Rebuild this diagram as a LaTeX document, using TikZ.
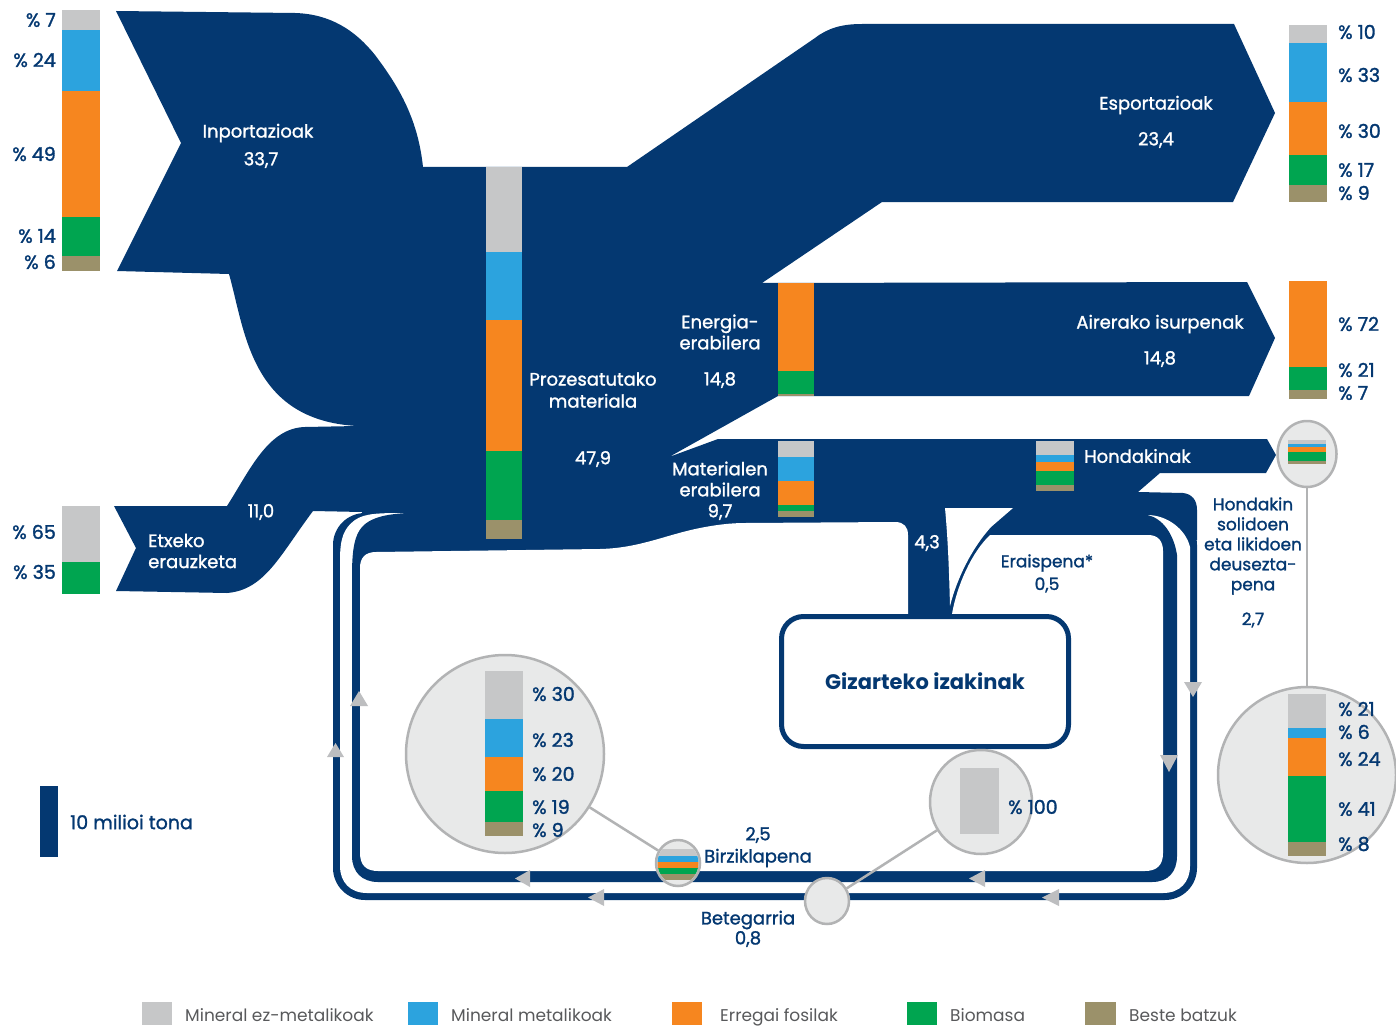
\documentclass[tikz,border=0pt]{standalone}
\usepackage{fontspec}
\setmainfont{Poppins}
\newfontfamily\labfont{Poppins}[FakeBold=1.3]
\newfontfamily\pctfont{Poppins}[FakeBold=1.6]
\usetikzlibrary{shapes.geometric}
\definecolor{navy}{RGB}{4,56,113}
\definecolor{cgrey}{RGB}{198,199,200}
\definecolor{cblue}{RGB}{44,163,222}
\definecolor{corange}{RGB}{246,134,31}
\definecolor{cgreen}{RGB}{0,165,80}
\definecolor{ctan}{RGB}{155,145,106}
\definecolor{circfill}{RGB}{232,233,233}
\definecolor{circline}{RGB}{178,179,180}
\definecolor{arrgrey}{RGB}{189,190,192}
\definecolor{legtext}{RGB}{88,89,91}
\tikzset{
  wl/.style={text=white, font=\labfont\fontsize{18}{21}\selectfont, inner sep=0pt},
  nl/.style={text=navy, font=\labfont\fontsize{17}{21}\selectfont, inner sep=0pt},
  pct/.style={text=navy, font=\pctfont\fontsize{19}{21}\selectfont, inner sep=0pt},
  leg/.style={text=legtext, font=\fontsize{17}{21}\selectfont, inner sep=0pt, anchor=base west},
  circ/.style={ellipse, draw=circline, fill=circfill, line width=2.5pt, inner sep=0pt},
  conn/.style={draw=circline, line width=2.5pt},
  arr/.style={fill=arrgrey}
}
\begin{document}
\begin{tikzpicture}[x=1pt,y=-1pt]
\useasboundingbox (0,0) rectangle (1396,1027);
% ---------- main navy body ----------
\fill[navy] (116,11) -- (295,13) .. controls (330,14) and (355,30) .. (375,55)
  .. controls (400,88) and (418,120) .. (423,167) -- (627,167) -- (815,38)
  .. controls (828,28) and (842,24) .. (862,24) -- (1234,24) -- (1275,113) -- (1233,202)
  -- (882,202) -- (762,283) -- (1247,282) -- (1275,338) -- (1249,396) -- (778,396)
  -- (669,457) -- (718,439) -- (1267,439) -- (1276,455) -- (1266,473) -- (1160,473)
  -- (1138,492) -- (1183,493) .. controls (1192,494) and (1197,500) .. (1197,510)
  -- (1197,540) -- (362,540) -- (362,512) -- (313,511)
  .. controls (280,555) and (265,590) .. (227,593) -- (116,591) -- (136,548) -- (114,506)
  -- (227,506) .. controls (250,470) and (268,428) .. (305,427) -- (357,426)
  .. controls (250,420) and (245,330) .. (229,274) -- (117,271) -- (181,143) -- cycle;
% ---------- loops ----------
\fill[navy, rounded corners=32pt] (333,513) rectangle (1197,900);
\fill[white] (408,513) .. controls (380,513) and (365,513) .. (355,520)
  .. controls (344,528) and (340,538) .. (340,560) -- (340,866)
  .. controls (340,882) and (350,893) .. (367,893) -- (1163,893)
  .. controls (1180,893) and (1190,882) .. (1190,866) -- (1190,547)
  .. controls (1186,530) and (1168,515) .. (1147,515) -- cycle;
\fill[navy] (408,513) .. controls (385,514) and (370,518) .. (362,527)
  .. controls (355,535) and (352,548) .. (352,575) -- (352,856)
  .. controls (352,872) and (362,882) .. (378,882) -- (1152,882)
  .. controls (1168,882) and (1177,872) .. (1177,856) -- (1177,555)
  .. controls (1174,535) and (1163,518) .. (1147,515) -- (1147,505) -- (408,505) -- cycle;
\fill[white] (360,568) .. controls (360,558) and (365,552) .. (376,552) -- (600,549)
  .. controls (640,548) and (665,535) .. (700,528) .. controls (715,525) and (730,523) .. (745,523)
  -- (895,522) .. controls (904,522) and (908,527) .. (908,535) -- (908,614) -- (952,614)
  .. controls (957,585) and (972,552) .. (990,535) -- (1148,535)
  .. controls (1158,535) and (1163,541) .. (1163,551) -- (1163,853)
  .. controls (1163,865) and (1157,871) .. (1145,871) -- (378,871)
  .. controls (366,871) and (360,865) .. (360,853) -- cycle;
\fill[white] (945,508) -- (1013,508) -- (991,527) .. controls (972,548) and (957,578) .. (950,606)
  .. controls (949,570) and (948,540) .. (945,508) -- cycle;
% ---------- box ----------
\node[draw=navy, line width=5pt, rounded corners=22pt, fill=white, minimum width=287pt,
  minimum height=130pt, text=navy, font=\fontsize{21}{25}\selectfont\bfseries] (box) at (925,681.5) {Gizarteko izakinak};
% ---------- arrows ----------
\fill[arr] (327,757) -- (344,757) -- (335.5,743) -- cycle;
\fill[arr] (350,706) -- (368,706) -- (359,691) -- cycle;
\fill[arr] (530,870) -- (530,887) -- (515,878.5) -- cycle;
\fill[arr] (985,870) -- (985,887) -- (969,878.5) -- cycle;
\fill[arr] (604,889) -- (604,906) -- (588,897.5) -- cycle;
\fill[arr] (1059,889) -- (1059,906) -- (1042,897.5) -- cycle;
\fill[arr] (1184,682) -- (1202,682) -- (1193,697) -- cycle;
\fill[arr] (1160,755) -- (1178,755) -- (1169,772) -- cycle;
% ---------- stacked bars ----------
\fill[cgrey] (62,10) rectangle (100,30);
\fill[cblue] (62,30) rectangle (100,91);
\fill[corange] (62,91) rectangle (100,217);
\fill[cgreen] (62,217) rectangle (100,256);
\fill[ctan] (62,256) rectangle (100,271);
\fill[cgrey] (62,506) rectangle (100,562);
\fill[cgreen] (62,562) rectangle (100,594);
\fill[cgrey] (486,167) rectangle (522,252);
\fill[cblue] (486,252) rectangle (522,320);
\fill[corange] (486,320) rectangle (522,451);
\fill[cgreen] (486,451) rectangle (522,520);
\fill[ctan] (486,520) rectangle (522,539);
\fill[corange] (778,283) rectangle (814,371);
\fill[cgreen] (778,371) rectangle (814,394);
\fill[ctan] (778,394) rectangle (814,396);
\fill[cgrey] (778,441) rectangle (814,457);
\fill[cblue] (778,457) rectangle (814,481);
\fill[corange] (778,481) rectangle (814,505);
\fill[cgreen] (778,505) rectangle (814,511);
\fill[ctan] (778,511) rectangle (814,517);
\fill[cgrey] (1036,441) rectangle (1074,455);
\fill[cblue] (1036,455) rectangle (1074,462);
\fill[corange] (1036,462) rectangle (1074,471);
\fill[cgreen] (1036,471) rectangle (1074,485);
\fill[ctan] (1036,485) rectangle (1074,491);
\fill[cgrey] (1289,25) rectangle (1327,43);
\fill[cblue] (1289,43) rectangle (1327,102);
\fill[corange] (1289,102) rectangle (1327,155);
\fill[cgreen] (1289,155) rectangle (1327,185);
\fill[ctan] (1289,185) rectangle (1327,202);
\fill[corange] (1289,281) rectangle (1327,367);
\fill[cgreen] (1289,367) rectangle (1327,390);
\fill[ctan] (1289,390) rectangle (1327,399);
\fill[navy] (40,786) rectangle (58,857);
% ---------- circles ----------
\node[circ, minimum width=198pt, minimum height=198pt] (bigL) at (505,754) {};
\node[circ, minimum width=44pt, minimum height=46pt] (smallB) at (678,863) {};
\node[circ, minimum width=44pt, minimum height=46pt] (smallF) at (827,901) {};
\node[circ, minimum width=102pt, minimum height=104pt] (mid) at (981,802) {};
\node[circ, minimum width=59pt, minimum height=66pt] (hc) at (1307,454) {};
\node[circ, minimum width=178pt, minimum height=176pt] (bigR) at (1307,775) {};
\draw[conn] (bigL) -- (smallB);
\draw[conn] (mid) -- (smallF);
\draw[conn] (hc) -- (bigR);
\fill[cgrey] (485,671) rectangle (523,719);
\fill[cblue] (485,719) rectangle (523,757);
\fill[corange] (485,757) rectangle (523,791);
\fill[cgreen] (485,791) rectangle (523,822);
\fill[ctan] (485,822) rectangle (523,836);
\fill[cgrey] (960,768) rectangle (999,834);
\fill[cgrey] (1288,440) rectangle (1326,444);
\fill[cblue] (1288,444) rectangle (1326,447);
\fill[corange] (1288,447) rectangle (1326,452);
\fill[cgreen] (1288,452) rectangle (1326,461);
\fill[ctan] (1288,461) rectangle (1326,464);
\fill[cgrey] (1288,694) rectangle (1326,728);
\fill[cblue] (1288,728) rectangle (1326,738);
\fill[corange] (1288,738) rectangle (1326,776);
\fill[cgreen] (1288,776) rectangle (1326,842);
\fill[ctan] (1288,842) rectangle (1326,856);
\begin{scope}
  \clip (678,863) ellipse [x radius=20.5, y radius=21.5];
  \fill[cgrey] (650,849) rectangle (706,856);
  \fill[cblue] (650,856) rectangle (706,862);
  \fill[corange] (650,862) rectangle (706,868);
  \fill[cgreen] (650,868) rectangle (706,874);
  \fill[ctan] (650,874) rectangle (706,880);
\end{scope}
% ---------- white labels ----------
\node[wl] (inp) at (258,133) {Inportazioak};
\node[wl] (inpv) at (261,160) {33,7};
\node[wl, align=center, font=\labfont\fontsize{18}{22}\selectfont] (proc) at (593,390) {Prozesatutako\\materiala};
\node[wl] (procv) at (593,459) {47,9};
\node[wl, align=center] (en) at (720,332) {Energia-\\erabilera};
\node[wl] (env) at (720,380) {14,8};
\node[wl] (exp) at (1156,105) {Esportazioak};
\node[wl] (expv) at (1156,140) {23,4};
\node[wl] (air) at (1160,324) {Airerako isurpenak};
\node[wl] (airv) at (1160,359) {14,8};
\node[wl, align=center] (mat) at (720,479) {Materialen\\erabilera};
\node[wl] (matv) at (720,512) {9,7};
\node[wl, anchor=west] (hond) at (1084,456) {Hondakinak};
\node[wl] (etxv) at (261,512) {11,0};
\node[wl, align=left, anchor=west] (etx) at (148,551) {Etxeko\\erauzketa};
\node[wl] (v43) at (927,543) {4,3};
% ---------- navy labels ----------
\node[nl] (erai) at (1047,563) {Eraispena*};
\node[nl] (eraiv) at (1047,585) {0,5};
\node[nl, align=center, font=\labfont\fontsize{17}{20}\selectfont] (hsd) at (1253,546) {Hondakin\\solidoen\\eta likidoen\\deusezta-\\pena};
\node[nl] (hsdv) at (1253,620) {2,7};
\node[nl, font=\labfont\fontsize{18}{21}\selectfont] (birv) at (758,835) {2,5};
\node[nl, font=\labfont\fontsize{18}{21}\selectfont] (birz) at (758,858) {Birziklapena};
\node[nl, font=\labfont\fontsize{18}{21}\selectfont] (bet) at (748,920) {Betegarria};
\node[nl, font=\labfont\fontsize{18}{21}\selectfont] (betv) at (748,939) {0,8};
\node[pct, anchor=west] (p100) at (1008,807) {\% 100};
\node[nl, anchor=west, font=\labfont\fontsize{19}{21}\selectfont] (scale) at (70,822) {10 milioi tona};
% ---------- percentages ----------
\node[pct, anchor=east] (l1) at (56,20) {\% 7};
\node[pct, anchor=east] (l2) at (56,60) {\% 24};
\node[pct, anchor=east] (l3) at (56,154) {\% 49};
\node[pct, anchor=east] (l4) at (56,236) {\% 14};
\node[pct, anchor=east] (l5) at (56,262) {\% 6};
\node[pct, anchor=east] (l6) at (56,532) {\% 65};
\node[pct, anchor=east] (l7) at (56,572) {\% 35};
\node[pct, anchor=west] (r1) at (1338,32) {\% 10};
\node[pct, anchor=west] (r2) at (1338,75) {\% 33};
\node[pct, anchor=west] (r3) at (1338,131) {\% 30};
\node[pct, anchor=west] (r4) at (1338,170) {\% 17};
\node[pct, anchor=west] (r5) at (1338,193) {\% 9};
\node[pct, anchor=west] (r6) at (1338,324) {\% 72};
\node[pct, anchor=west] (r7) at (1338,370) {\% 21};
\node[pct, anchor=west] (r8) at (1338,393) {\% 7};
\node[pct, anchor=west] (c1) at (1338,709) {\% 21};
\node[pct, anchor=west] (c2) at (1338,732) {\% 6};
\node[pct, anchor=west] (c3) at (1338,759) {\% 24};
\node[pct, anchor=west] (c4) at (1338,809) {\% 41};
\node[pct, anchor=west] (c5) at (1338,844) {\% 8};
\node[pct, anchor=west] (b1) at (532,694) {\% 30};
\node[pct, anchor=west] (b2) at (532,740) {\% 23};
\node[pct, anchor=west] (b3) at (532,774) {\% 20};
\node[pct, anchor=west] (b4) at (532,807) {\% 19};
\node[pct, anchor=west] (b5) at (532,830) {\% 9};
% ---------- legend ----------
\fill[cgrey] (142,1002) rectangle (172,1025);
\node[leg] (lg1) at (185,1021) {Mineral ez-metalikoak};
\fill[cblue] (408,1002) rectangle (438,1025);
\node[leg] (lg2) at (451,1021) {Mineral metalikoak};
\fill[corange] (672,1002) rectangle (702,1025);
\node[leg] (lg3) at (720,1021) {Erregai fosilak};
\fill[cgreen] (907,1002) rectangle (937,1025);
\node[leg] (lg4) at (950,1021) {Biomasa};
\fill[ctan] (1085,1002) rectangle (1116,1025);
\node[leg] (lg5) at (1129,1021) {Beste batzuk};
\end{tikzpicture}
\end{document}
